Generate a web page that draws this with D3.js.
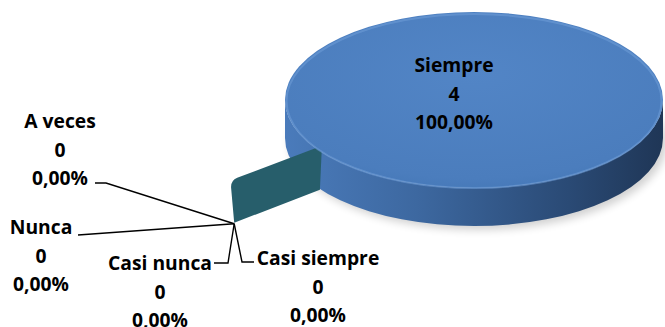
<!DOCTYPE html>
<html><head><meta charset="utf-8">
<script src="https://cdn.jsdelivr.net/npm/d3@7/dist/d3.min.js"></script>
<style>body{margin:0;background:#fff}svg{display:block}text{font-family:"Open Sans",sans-serif;font-weight:bold;font-size:19.3px;fill:#000}</style>
</head><body><svg id="c" width="665" height="327"></svg>
<script>
const categories = ["Siempre","Casi siempre","Casi nunca","Nunca","A veces"];
const values = [4,0,0,0,0];
const percentLabels = ["100,00%","0,00%","0,00%","0,00%","0,00%"];

const svg = d3.select("#c");
const cx = 474, cy = 100, rx = 189, ry = 88, depth = 38;

const defs = svg.append("defs");
const gSide = defs.append("linearGradient").attr("id","side").attr("x1","0").attr("x2","1").attr("y1","0").attr("y2","0");
gSide.append("stop").attr("offset","0").attr("stop-color","#4a7bbb");
gSide.append("stop").attr("offset","0.35").attr("stop-color","#3d68a0");
gSide.append("stop").attr("offset","0.75").attr("stop-color","#2a4a75");
gSide.append("stop").attr("offset","1").attr("stop-color","#1f3656");
const gTop = defs.append("radialGradient").attr("id","top").attr("cx","0.5").attr("cy","0.35").attr("r","0.7");
gTop.append("stop").attr("offset","0").attr("stop-color","#5285c6");
gTop.append("stop").attr("offset","0.85").attr("stop-color","#4b7dbd");
gTop.append("stop").attr("offset","1").attr("stop-color","#4477b6");
const blur = defs.append("filter").attr("id","blur").attr("x","-20%").attr("y","-20%").attr("width","140%").attr("height","140%");
blur.append("feGaussianBlur").attr("stdDeviation","4");

const pie = d3.pie().sort(null).value(d => d)(values);

// shadow
svg.append("ellipse").attr("cx", cx + 4).attr("cy", cy + depth + 4).attr("rx", rx).attr("ry", ry)
  .attr("fill", "#000").attr("opacity", 0.18).attr("filter","url(#blur)");

// side wall
svg.append("path")
  .attr("d", `M${cx-rx},${cy} A${rx},${ry} 0 0 0 ${cx+rx},${cy} L${cx+rx},${cy+depth} A${rx},${ry} 0 0 1 ${cx-rx},${cy+depth} Z`)
  .attr("fill", "url(#side)");

// cut face of the zero-size slices, at the slice boundary
const xIn = cx - rx * 0.81, xOut = cx - rx * 1.29;
const yInTop = cy + ry * 0.52, yOutTop = yInTop + 35, h = 44;
const face = d3.path();
face.moveTo(xIn + 1, yInTop);
face.lineTo(xOut + 7, yOutTop - 3);
face.quadraticCurveTo(xOut, yOutTop, xOut + 1, yOutTop + 8);
face.lineTo(xOut + 4, yOutTop + h - 2);
face.lineTo(xIn - 1, yInTop + h);
face.closePath();
svg.append("path").attr("d", face.toString()).attr("fill", "#275e6b");

// top face
svg.append("ellipse").attr("cx", cx).attr("cy", cy).attr("rx", rx).attr("ry", ry)
  .attr("fill", "url(#top)");
svg.append("ellipse").attr("cx", cx).attr("cy", cy + 1).attr("rx", rx - 1.5).attr("ry", ry - 1)
  .attr("fill", "none").attr("stroke", "#6d9bd6").attr("stroke-width", 2).attr("opacity", 0.6);

// labels
const hub = [xOut + 4, yOutTop + h - 1];
const layout = {
  "Siempre":      {x: 454, y: 72, line: null},
  "A veces":      {x: 60,  y: 128, line: [[95,183],[106,183]]},
  "Nunca":        {x: 41,  y: 234, line: [[78,235]]},
  "Casi nunca":   {x: 160, y: 270, line: [[214,263],[228,263]]},
  "Casi siempre": {x: 318, y: 265, line: [[254,262],[242,262]]}
};
const lineH = 28.5;
categories.forEach((c, i) => {
  const L = layout[c];
  const t = svg.append("text").attr("text-anchor", "middle");
  [c, String(values[i]), percentLabels[i]].forEach((s, k) => {
    t.append("tspan").attr("x", L.x).attr("y", L.y + k * lineH).text(s);
  });
  if (L.line) {
    svg.append("path").attr("d", d3.line()([...L.line, hub]))
      .attr("fill","none").attr("stroke","#000").attr("stroke-width",1.4);
  }
});
</script></body></html>
